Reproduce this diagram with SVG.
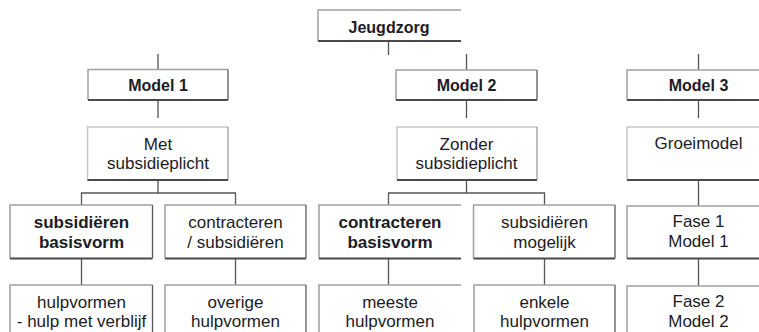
<svg xmlns="http://www.w3.org/2000/svg" width="759" height="332" viewBox="0 0 759 332">
<style>
  .bg{fill:#fff;stroke:none}
  .lt{fill:none;stroke:#a0a0a0;stroke-width:1.5}
  .dk{fill:none;stroke:#4a4a4a;stroke-width:2}
  .dr{fill:none;stroke:#5a5a5a;stroke-width:1.3}
  .con{fill:none;stroke:#555;stroke-width:1.3}
  text{font-family:"Liberation Sans",Arial,sans-serif;fill:#1c1c24;text-anchor:middle;font-size:17px}
  .b{font-weight:bold}
  .h{font-weight:bold;font-size:16px}
</style>
<rect width="759" height="332" fill="#fff"/>
<g id="connectors">
  <path class="con" d="M388.5 41V55M158 54V69M466.5 54V70M698.5 54V70"/>
  <path class="con" d="M158 100V118M466.5 100V118M698.5 100V118"/>
  <path class="con" d="M158 180V193M81.5 205V193H235.5V205"/>
  <path class="con" d="M466.5 180V193M388.5 205V193H544.5V205"/>
  <path class="con" d="M698.5 180V206"/>
  <path class="con" d="M81.5 258V285M235.5 258V285M388.5 258V285M544.5 258V285M698.5 258V286"/>
</g>
<g id="jeugdzorg">
  <path class="lt" d="M318 41V10H461"/>
  <path class="dk" d="M318 41H461"/>
  <text class="h" x="389" y="32.5">Jeugdzorg</text>
</g>
<g id="model1">
  <path class="lt" d="M88 100V69.5H228"/>
  <path class="dk" d="M88 100H228"/><path class="dr" d="M228 69.5V100"/>
  <text class="h" x="158" y="90.5">Model 1</text>
</g>
<g id="model2">
  <path class="lt" d="M396 100V70H537"/>
  <path class="dk" d="M396 100H537"/><path class="dr" d="M537 70V100"/>
  <text class="h" x="466.5" y="90.5">Model 2</text>
</g>
<g id="model3">
  <path class="lt" d="M627 100V70H768"/>
  <path class="dk" d="M627 100H768"/>
  <text class="h" x="698.5" y="90.5">Model 3</text>
</g>
<g id="met-subsidieplicht">
  <path class="lt" d="M87.5 180V127H228" stroke-opacity="0.6"/>
  <path class="dk" d="M87.5 180H228"/><path class="dr" d="M228 127V180" stroke-opacity="0.6"/>
  <text x="158" y="150">Met</text>
  <text x="158" y="169">subsidieplicht</text>
</g>
<g id="zonder-subsidieplicht">
  <path class="lt" d="M397 180V127H537" stroke-opacity="0.6"/>
  <path class="dk" d="M397 180H537"/><path class="dr" d="M537 127V180" stroke-opacity="0.6"/>
  <text x="466.5" y="150">Zonder</text>
  <text x="466.5" y="169">subsidieplicht</text>
</g>
<g id="groeimodel">
  <path class="lt" d="M627 180V127H768" stroke-opacity="0.6"/>
  <path class="dk" d="M627 180H768"/>
  <text x="698.5" y="149">Groeimodel</text>
</g>
<g id="subsidieren-basisvorm">
  <path class="lt" d="M10 258.5V205H152.5"/>
  <path class="dk" d="M10 258.5H152.5"/><path class="dr" d="M152.5 205V258.5"/>
  <text class="b" x="81.5" y="228">subsidiëren</text>
  <text class="b" x="81.5" y="248">basisvorm</text>
</g>
<g id="contracteren-subsidieren">
  <path class="lt" d="M165 258.5V205H306"/>
  <path class="dk" d="M165 258.5H306"/><path class="dr" d="M306 205V258.5"/>
  <text x="235.5" y="228">contracteren</text>
  <text x="235.5" y="248">/ subsidiëren</text>
</g>
<g id="contracteren-basisvorm">
  <path class="lt" d="M319 258.5V205H461"/>
  <path class="dk" d="M319 258.5H461"/>
  <text class="b" x="390" y="228">contracteren</text>
  <text class="b" x="390" y="248">basisvorm</text>
</g>
<g id="subsidieren-mogelijk">
  <path class="lt" d="M473.5 258.5V205H615"/>
  <path class="dk" d="M473.5 258.5H615"/><path class="dr" d="M615 205V258.5"/>
  <text x="544.5" y="228">subsidiëren</text>
  <text x="544.5" y="248">mogelijk</text>
</g>
<g id="fase1">
  <path class="lt" d="M627 258.5V206H768"/>
  <path class="dk" d="M627 258.5H768"/>
  <text x="698.5" y="227">Fase 1</text>
  <text x="698.5" y="247">Model 1</text>
</g>
<g id="hulpvormen-verblijf">
  <path class="lt" d="M10 340V285H152.5"/>
  <path class="dr" d="M152.5 285V340"/>
  <text x="81.5" y="307.5">hulpvormen</text>
  <text x="81.5" y="326.5">- hulp met verblijf</text>
</g>
<g id="overige-hulpvormen">
  <path class="lt" d="M165 340V285H306"/>
  <path class="dr" d="M306 285V340"/>
  <text x="235.5" y="307.5">overige</text>
  <text x="235.5" y="326.5">hulpvormen</text>
</g>
<g id="meeste-hulpvormen">
  <path class="lt" d="M319 340V285H461"/>
  <text x="390" y="307.5">meeste</text>
  <text x="390" y="326.5">hulpvormen</text>
</g>
<g id="enkele-hulpvormen">
  <path class="lt" d="M474 340V285H615"/>
  <path class="dr" d="M615 285V340"/>
  <text x="544.5" y="307.5">enkele</text>
  <text x="544.5" y="326.5">hulpvormen</text>
</g>
<g id="fase2">
  <path class="lt" d="M627 340V286H768"/>
  <text x="698.5" y="306.5">Fase 2</text>
  <text x="698.5" y="326.5">Model 2</text>
</g>
</svg>
